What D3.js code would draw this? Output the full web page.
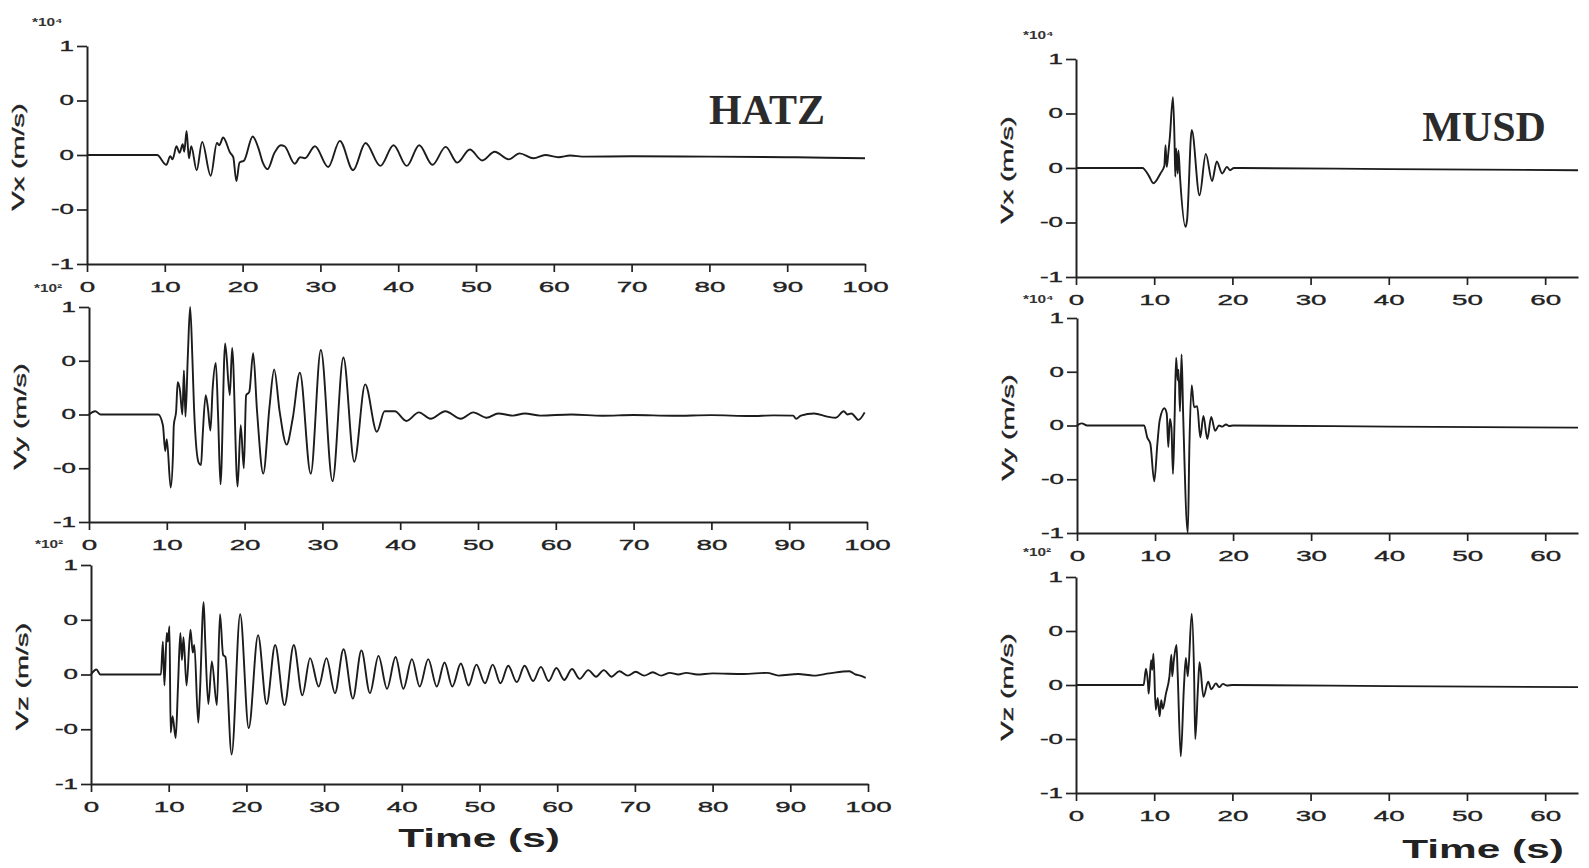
<!DOCTYPE html>
<html>
<head>
<meta charset="utf-8">
<script src="https://cdn.jsdelivr.net/npm/d3@7"></script>
<style>
  html, body { margin: 0; padding: 0; background: #ffffff; }
  svg { display: block; }
</style>
</head>
<body>
<svg id="chart" width="1589" height="868"></svg>
<script>
// ---------------- DATA ----------------
const stations = ["HATZ", "MUSD"];
const components = ["Vx (m/s)", "Vy (m/s)", "Vz (m/s)"];
const yTickValues = [1, 0.5, 0, -0.5, -1];
const yTickLabels = ["1", "0", "0", "-0", "-1"];
const xTicksHATZ = [0, 10, 20, 30, 40, 50, 60, 70, 80, 90, 100];
const xTicksMUSD = [0, 10, 20, 30, 40, 50, 60];
const xMaxHATZ = 100;
const xMaxMUSD = 64.2;
const multLabels = [["*10⁴", "*10²", "*10²"], ["*10⁴", "*10⁴", "*10²"]];
const xTitle = "Time (s)";

// HATZ Vx  [time s, amplitude]
const hatzVx = [[0,0],[9.0,0],[10.2,-0.09],[10.7,-0.01],[11.0,-0.04],[11.5,0.08],[11.9,0.02],[12.3,0.10],[12.5,0.03],[12.8,0.22],[13.1,-0.03],[13.4,0.08],[14.1,-0.14],[14.8,0.12],[15.9,-0.19],[16.7,0.11],[17.0,0.09],[17.5,0.16],[18.4,0.02],[18.8,-0.02],[19.2,-0.24],[19.6,-0.07],[20.2,-0.05],[21.3,0.17],[22.0,0.07],[22.6,-0.07],[23.2,-0.13],[24.1,0.02],[24.9,0.09],[25.4,0.08],[26.7,-0.08],[27.4,-0.02],[28.0,-0.03],[29.3,0.08],[31.0,-0.11],[32.5,0.13],[34.2,-0.14],[35.8,0.11],[37.7,-0.10],[39.4,0.09],[41.1,-0.10],[42.7,0.09],[44.4,-0.09],[46.1,0.075],[47.6,-0.07],[49.2,0.05],[50.8,-0.05],[52.4,0.03],[54.2,-0.04],[55.6,0.015],[57.4,-0.03],[58.9,0.0],[60.6,-0.02],[62.1,-0.005],[64,-0.015],[70,-0.012],[80,-0.015],[90,-0.02],[95,-0.025],[100,-0.03]];

// HATZ Vy
const hatzVy = [[0,0],[0.8,0.03],[1.5,0],[8.9,0],[9.5,-0.1],[9.8,-0.34],[10.0,-0.23],[10.5,-0.68],[10.8,-0.36],[10.9,-0.1],[11.2,0.03],[11.4,0.30],[11.7,0.22],[12.0,0.0],[12.2,0.41],[12.4,-0.02],[12.7,0.54],[13.0,1.0],[13.3,0.5],[13.5,0.06],[14.1,-0.45],[14.4,-0.47],[14.6,-0.21],[15.0,0.18],[15.3,0.05],[15.6,-0.15],[15.9,0.25],[16.3,0.48],[16.6,-0.03],[16.9,-0.65],[17.5,0.66],[18.1,0.18],[18.4,0.62],[19.1,-0.67],[19.5,-0.1],[19.9,-0.5],[20.2,0.18],[20.6,0.21],[21.1,0.57],[21.6,0.03],[22.4,-0.55],[23.2,0.07],[23.8,0.42],[24.5,0.03],[25.4,-0.28],[26.2,-0.03],[27.1,0.39],[28.5,-0.55],[29.8,0.60],[31.3,-0.62],[32.7,0.53],[34.1,-0.44],[35.5,0.28],[37.0,-0.16],[38.0,0.03],[39.3,0.03],[40.8,-0.06],[42.4,0.02],[43.9,-0.04],[45.8,0.03],[47.8,-0.04],[49.4,0.02],[51.1,-0.03],[52.6,0.01],[54.5,-0.01],[56,0.01],[58,-0.01],[62,0.0],[66,-0.012],[70,-0.005],[75,-0.012],[80,-0.006],[85,-0.014],[88,-0.008],[90.5,-0.01],[90.9,-0.04],[91.5,-0.01],[93.2,0.01],[94.9,-0.02],[96.0,-0.03],[97.0,0.03],[97.5,0.0],[98.0,0.01],[98.9,-0.05],[99.7,0.02]];

// HATZ Vz
const hatzVz = [[0,0],[0.7,0.045],[1.2,0],[9.0,0],[9.25,0.30],[9.45,-0.1],[9.75,0.38],[9.9,0.3],[10.1,0.44],[10.25,-0.53],[10.5,-0.38],[10.9,-0.58],[11.2,-0.1],[11.5,0.38],[11.7,0.13],[11.9,0.34],[12.3,-0.1],[12.8,0.41],[13.1,0.2],[13.3,0.27],[13.8,-0.44],[14.0,-0.2],[14.5,0.66],[14.7,0.3],[15.1,-0.27],[15.55,0.12],[16.2,-0.28],[16.6,0.55],[17.0,0.18],[17.3,0.16],[18.1,-0.73],[19.2,0.55],[20.3,-0.49],[21.5,0.36],[22.6,-0.27],[23.7,0.27],[24.9,-0.28],[26.1,0.27],[27.2,-0.19],[28.2,0.15],[29.3,-0.11],[30.3,0.15],[31.4,-0.17],[32.5,0.23],[33.7,-0.22],[34.8,0.22],[35.9,-0.17],[37.0,0.17],[38.1,-0.13],[39.2,0.16],[40.2,-0.13],[41.3,0.14],[42.3,-0.11],[43.4,0.14],[44.5,-0.11],[45.5,0.11],[46.5,-0.11],[47.6,0.10],[48.6,-0.10],[49.6,0.09],[50.7,-0.08],[51.7,0.09],[52.7,-0.08],[53.7,0.08],[54.8,-0.07],[55.8,0.08],[56.9,-0.06],[57.9,0.07],[58.9,-0.06],[59.9,0.06],[60.9,-0.05],[61.9,0.05],[62.9,-0.04],[64.0,0.04],[65.0,-0.02],[66.0,0.04],[67.0,-0.02],[68.0,0.03],[69.1,-0.01],[70.1,0.025],[71.2,-0.01],[72.3,0.02],[73.4,-0.01],[74.5,0.015],[75.6,0.0],[76.6,0.015],[78,0.0],[80,0.01],[84,0.005],[87,0.015],[88.5,-0.01],[91,0.005],[93,-0.01],[95,0.01],[97.6,0.03],[98.4,0.0],[99.0,-0.01],[99.7,-0.03]];

// MUSD Vx
const musdVx = [[0,0],[8.5,0],[9.3,-0.07],[9.9,-0.14],[10.8,-0.05],[11.3,0.02],[11.45,0.21],[11.6,0.01],[11.8,0.13],[12.0,0.28],[12.4,0.65],[12.6,0.25],[12.7,-0.08],[12.8,0.18],[13.0,-0.05],[13.1,0.16],[13.3,-0.08],[14.0,-0.54],[14.2,-0.48],[14.8,0.35],[15.8,-0.25],[16.6,0.13],[17.4,-0.12],[18.0,0.06],[18.7,-0.05],[19.3,0.01],[19.7,-0.02],[20.2,0],[40,-0.01],[64.2,-0.02]];

// MUSD Vy
const musdVy = [[0,0],[0.6,0.02],[1.3,0],[8.6,0],[9.0,-0.11],[9.4,-0.17],[9.9,-0.52],[10.3,-0.17],[10.6,0.05],[11.2,0.16],[11.5,0.11],[11.7,-0.2],[11.9,0.06],[12.1,-0.02],[12.3,-0.45],[12.5,0.05],[12.7,0.63],[12.9,0.42],[13.0,0.52],[13.2,0.13],[13.4,0.66],[13.6,0.11],[14.2,-1.0],[14.4,-0.2],[14.7,0.375],[15.0,0.17],[15.4,0.18],[15.8,-0.11],[16.2,0.09],[16.7,-0.125],[17.2,0.08],[17.7,-0.05],[18.2,0],[18.6,-0.01],[19.1,0.01],[19.5,-0.005],[20,0],[40,-0.01],[64.2,-0.02]];

// MUSD Vz
const musdVz = [[0,0],[8.65,0],[8.95,0.15],[9.2,0.02],[9.3,-0.08],[9.6,0.23],[9.75,0.14],[9.9,0.29],[10.2,-0.23],[10.45,-0.12],[10.7,-0.29],[10.9,-0.14],[11.1,-0.22],[11.5,-0.08],[11.95,0.08],[12.2,0.28],[12.3,0.08],[12.5,0.22],[12.85,0.37],[13.0,0.11],[13.4,-0.66],[13.8,-0.02],[14.05,0.25],[14.3,0.08],[14.8,0.66],[15.1,0.11],[15.25,-0.5],[15.6,-0.02],[15.8,0.21],[16.3,-0.11],[16.9,0.03],[17.3,-0.04],[17.9,0.015],[18.3,-0.02],[18.8,0.01],[19.3,-0.005],[20,0],[40,-0.01],[64.2,-0.02]];

// ---------------- LAYOUT ----------------
const svg = d3.select("#chart");
const FONT = "'Liberation Sans', Arial, sans-serif";
const STRETCH = 1.85;
const INK = "#222";

const panels = [
  {data: hatzVx, st: 0, comp: 0, x0: 87,   x1: 865,  yTop: 46,  yBot: 264, xMax: xMaxHATZ, ticks: xTicksHATZ, multX: 32,   multY: 26},
  {data: hatzVy, st: 0, comp: 1, x0: 89,   x1: 867,  yTop: 307, yBot: 522, xMax: xMaxHATZ, ticks: xTicksHATZ, multX: 34,   multY: 292},
  {data: hatzVz, st: 0, comp: 2, x0: 91,   x1: 868,  yTop: 565, yBot: 784, xMax: xMaxHATZ, ticks: xTicksHATZ, multX: 35,   multY: 548},
  {data: musdVx, st: 1, comp: 0, x0: 1076, x1: 1578, yTop: 59,  yBot: 277, xMax: xMaxMUSD, ticks: xTicksMUSD, multX: 1023, multY: 39},
  {data: musdVy, st: 1, comp: 1, x0: 1077, x1: 1578, yTop: 318, yBot: 533, xMax: xMaxMUSD, ticks: xTicksMUSD, multX: 1023, multY: 303},
  {data: musdVz, st: 1, comp: 2, x0: 1076, x1: 1578, yTop: 577, yBot: 793, xMax: xMaxMUSD, ticks: xTicksMUSD, multX: 1023, multY: 556}
];

panels.forEach(p => {
  const x = d3.scaleLinear().domain([0, p.xMax]).range([p.x0, p.x1]);
  const y = d3.scaleLinear().domain([-1, 1]).range([p.yBot, p.yTop]);
  const g = svg.append("g");

  // y axis
  const ya = g.append("g").attr("transform", `translate(${p.x0},0)`)
    .call(d3.axisLeft(y).tickValues(yTickValues)
      .tickFormat((d, i) => yTickLabels[i]).tickSize(10).tickSizeOuter(0));
  ya.selectAll("text")
    .attr("x", null)
    .attr("transform", `translate(-13,0) scale(${STRETCH},1)`)
    .style("font-family", FONT).style("font-size", "14px")
    .attr("fill", INK).attr("stroke", INK).attr("stroke-width", 0.35);

  // x axis
  const xa = g.append("g").attr("transform", `translate(0,${p.yBot})`)
    .call(d3.axisBottom(x).tickValues(p.ticks).tickFormat(d3.format("d"))
      .tickSize(8).tickSizeOuter(0));
  xa.selectAll("text")
    .attr("y", null).attr("dy", null)
    .attr("transform", `translate(0,28) scale(${STRETCH},1)`)
    .style("font-family", FONT).style("font-size", "15px")
    .attr("fill", INK).attr("stroke", INK).attr("stroke-width", 0.35);

  [ya, xa].forEach(a => {
    a.selectAll("path.domain").attr("stroke", INK).attr("stroke-width", 2);
    a.selectAll(".tick line").attr("stroke", INK).attr("stroke-width", 1.7);
  });

  // trace
  const line = d3.line()
    .x(d => x(d[0])).y(d => y(d[1]))
    .curve(d3.curveMonotoneX);
  g.append("path").datum(p.data)
    .attr("d", line)
    .attr("fill", "none")
    .attr("stroke", "#1c1c1c")
    .attr("stroke-width", 1.9)
    .attr("stroke-linejoin", "round");

  // y title
  const tx = p.x0 - 68;
  const ty = (p.yTop + p.yBot) / 2 + 2;
  g.append("text")
    .attr("transform", `translate(${tx},${ty}) rotate(-90) scale(1.8,1)`)
    .attr("text-anchor", "middle")
    .attr("dominant-baseline", "central")
    .style("font-family", FONT).style("font-size", "16px")
    .attr("fill", INK).attr("stroke", INK).attr("stroke-width", 0.4)
    .text(components[p.comp]);

  // multiplier
  g.append("text")
    .attr("transform", `translate(${p.multX},${p.multY}) scale(1.4,1)`)
    .style("font-family", FONT).style("font-size", "11px").style("font-weight", "bold")
    .attr("fill", "#333")
    .text(multLabels[p.st][p.comp]);
});

// station names
svg.append("text")
  .attr("x", 767).attr("y", 124).attr("text-anchor", "middle")
  .style("font-family", "'Liberation Serif', 'Times New Roman', serif")
  .style("font-size", "42px").style("font-weight", "bold")
  .attr("fill", "#2b2b2b").text(stations[0]);
svg.append("text")
  .attr("x", 1484).attr("y", 141).attr("text-anchor", "middle")
  .style("font-family", "'Liberation Serif', 'Times New Roman', serif")
  .style("font-size", "42px").style("font-weight", "bold")
  .attr("fill", "#2b2b2b").text(stations[1]);

// x titles
[[479, 847], [1483, 858]].forEach(([cx, cy]) => {
  svg.append("text")
    .attr("transform", `translate(${cx},${cy}) scale(1.63,1)`)
    .attr("text-anchor", "middle")
    .style("font-family", FONT).style("font-size", "26px").style("font-weight", "bold")
    .attr("fill", INK)
    .text(xTitle);
});
</script>
</body>
</html>
